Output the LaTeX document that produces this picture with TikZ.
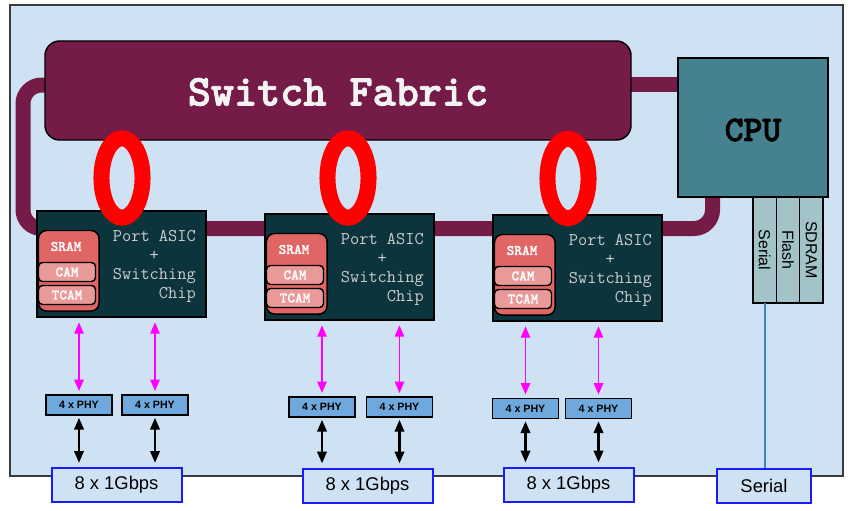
\documentclass[tikz,border=0pt]{standalone}
\usepackage{fontspec}
\setmainfont{Liberation Sans}
\newfontfamily\courb{lmmonolt10-bold}[Extension=.otf, FakeBold=2]
\newfontfamily\courm{lmmonolt10-bold}[Extension=.otf, FakeBold=0.8]
\usetikzlibrary{arrows.meta,backgrounds}
\definecolor{bgblue}{HTML}{CFE2F3}
\definecolor{framec}{HTML}{3A3A3A}
\definecolor{fabc}{HTML}{741B47}
\definecolor{fabtext}{HTML}{F3F3F3}
\definecolor{cpuc}{HTML}{45818E}
\definecolor{slotc}{HTML}{A2C4C9}
\definecolor{asicc}{HTML}{0C343D}
\definecolor{asictx}{HTML}{CCCCCC}
\definecolor{sramc}{HTML}{E06666}
\definecolor{camc}{HTML}{EA9999}
\definecolor{phyc}{HTML}{6FA8DC}
\definecolor{portb}{HTML}{1A1AFF}
\definecolor{serline}{HTML}{3D85C6}
\definecolor{magc}{HTML}{FF00FF}
\begin{document}
\begin{tikzpicture}[x=0.75pt,y=-0.75pt,
  box/.style={draw=black, line width=1.1pt, inner sep=0pt, outer sep=0pt},
  fabricbox/.style={box, fill=fabc, rounded corners=11pt, minimum width=439.5pt, minimum height=74.25pt},
  fabfont/.style={text=fabtext, font=\courb\fontsize{33}{38}\selectfont},
  cpubox/.style={box, fill=cpuc, minimum width=112.5pt, minimum height=104.25pt},
  cpufont/.style={text=black, font=\courb\fontsize{27}{30}\selectfont},
  slotbox/.style={box, fill=slotc, minimum width=17.5pt, minimum height=79.5pt},
  slottext/.style={rotate=-90, inner sep=0pt, font=\fontsize{12}{13}\selectfont},
  asicbox/.style={box, fill=asicc, minimum width=126.75pt, minimum height=79.5pt},
  asictext/.style={text=asictx, align=center, inner sep=0pt, anchor=east, font=\ttfamily\fontsize{13.4}{14.25}\selectfont},
  memin/.style={box, fill=camc, rounded corners=3pt, minimum width=42.75pt, minimum height=14.25pt, anchor=north west, text=white, font=\courm\fontsize{11}{12}\selectfont},
  memouter/.style={box, fill=sramc, rounded corners=6pt, minimum width=45.4pt, minimum height=60.4pt, anchor=north west},
  sramtext/.style={text=white, inner sep=0pt, font=\courm\fontsize{11}{12}\selectfont},
  phybox/.style={box, fill=phyc, minimum width=49.5pt, minimum height=15pt, font=\bfseries\fontsize{8}{10}\selectfont},
  portbox/.style={draw=portb, line width=1.5pt, fill=bgblue, minimum width=97.5pt, minimum height=25.5pt, inner sep=0pt, font=\fontsize{13.8}{16}\selectfont},
  serbox/.style={portbox, minimum width=70.5pt},
  ringline/.style={line width=11.25pt, draw=fabc},
  loopst/.style={draw=red, line width=12pt},
  magarr/.style={draw=magc, line width=1.2pt, {Triangle[length=8.5pt,width=7pt]}-{Triangle[length=8.5pt,width=7pt]}, shorten <=4pt, shorten >=3pt},
  blkarr/.style={draw=black, line width=2pt, {Triangle[length=9pt,width=7pt]}-{Triangle[length=9pt,width=7pt]}, shorten <=2pt, shorten >=3pt}
]
\useasboundingbox (0,0) rectangle (866,510);
\begin{scope}[on background layer]
  \fill[white] (0,0) rectangle (866,510);
  \draw[fill=bgblue, draw=framec, line width=1.1pt] (10,5) rectangle (843,476);
\end{scope}

% fabric and CPU
\node[fabricbox] (fab) at (338,90.5) {};
\node[fabfont] (fabt) at (338,92) {Switch Fabric};
\node[cpubox] (cpu) at (753,127.5) {};
\node[cpufont] (cput) at (753,130) {CPU};

% memory slots under CPU
\node[slotbox] (s1) at (764.7,250) {};
\node[slotbox] (s2) at (788,250) {};
\node[slotbox] (s3) at (811.3,250) {};
\node[slottext] (s1t) at (s1) {Serial};
\node[slottext] (s2t) at (s2) {Flash};
\node[slottext] (s3t) at (s3) {SDRAM};

% ASICs
\foreach \n/\x/\y in {1/121.5/264, 2/349.5/267, 3/577.5/268} {
  \node[asicbox] (a\n) at (\x,\y) {};
  \node[memouter] (m\n) at ([shift={(1.5,19.5)}]a\n.north west) {};
  \node[sramtext] (sr\n) at ([shift={(29,35.5)}]a\n.north west) {SRAM};
  \node[memin] (c\n) at ([shift={(1.5,51.5)}]a\n.north west) {CAM};
  \node[memin] (t\n) at ([shift={(1.5,74.5)}]a\n.north west) {TCAM};
  \node[asictext] (at\n) at ([shift={(-10,2.5)}]a\n.east) {Port ASIC\\+\\Switching\\\hphantom{Switc}Chip};
}

% ring bus (behind)
\coordinate (rl) at (23,85);
\coordinate (rb) at (23,228.5);
\coordinate (rr) at (712.5,228.5);
\coordinate (lk) at (655,84.5);
\begin{scope}[on background layer]
  \draw[ringline, rounded corners=14pt] (fab.west |- rl) -- (rl) -- (rb) -- (rr) -- (cpu.south -| rr);
  \draw[ringline] (fab.east |- lk) -- (cpu.west |- lk);
\end{scope}

% red loops
\draw[loopst] (122,178) ellipse [x radius=15.4pt, y radius=29.8pt];
\draw[loopst] (348,178) ellipse [x radius=15.4pt, y radius=29.8pt];
\draw[loopst] (568,178.5) ellipse [x radius=15.4pt, y radius=29.8pt];

% PHYs
\node[phybox] (p11) at (79,405) {4 x PHY};
\node[phybox] (p12) at (155,405) {4 x PHY};
\node[phybox] (p21) at (322,407) {4 x PHY};
\node[phybox] (p22) at (399.5,407) {4 x PHY};
\node[phybox] (p31) at (525.5,408.5) {4 x PHY};
\node[phybox] (p32) at (598.5,408.5) {4 x PHY};

% port boxes
\node[portbox] (g1) at (116.5,485) {8 x 1Gbps};
\node[portbox] (g2) at (367.5,485.5) {8 x 1Gbps};
\node[portbox] (g3) at (568.5,484.5) {8 x 1Gbps};
\node[serbox] (ser) at (764,486) {Serial};

% magenta arrows ASIC <-> PHY
\foreach \a/\p in {a1/p11, a1/p12, a2/p21, a2/p22, a3/p31, a3/p32} {
  \draw[magarr] (\a.south -| \p.north) -- (\p.north);
}
% black arrows PHY <-> ports
\foreach \p/\g in {p11/g1, p12/g1, p21/g2, p22/g2, p31/g3, p32/g3} {
  \draw[blkarr] (\p.south) -- (\p.south |- \g.north);
}
% serial line
\draw[serline, line width=1.2pt] (s1.south) -- (s1.south |- ser.north);
\end{tikzpicture}
\end{document}
